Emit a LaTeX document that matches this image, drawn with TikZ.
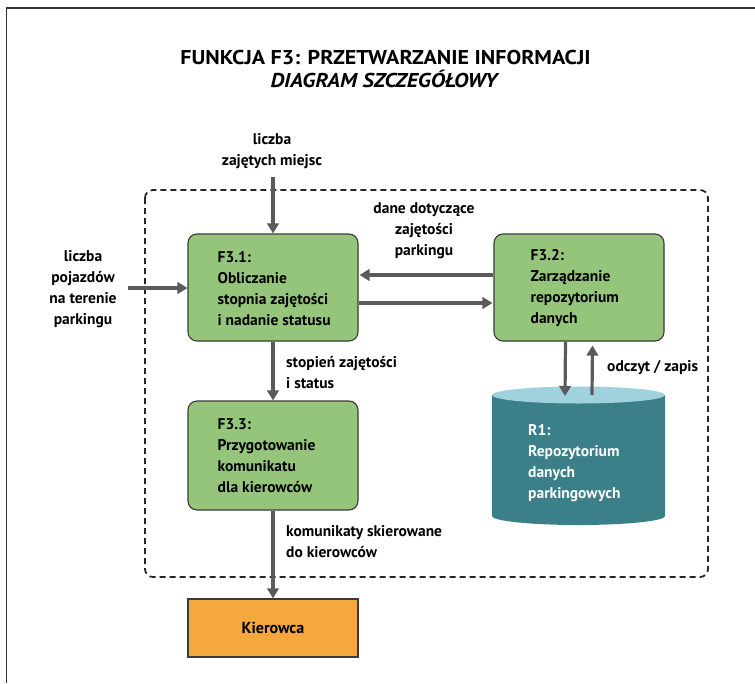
\documentclass[tikz,border=0pt]{standalone}
\usepackage{fontspec}
\setmainfont{PT Sans}
\newfontfamily\headfont{PT Sans}[FakeStretch=1.1]
\usetikzlibrary{arrows.meta}

\definecolor{procgreen}{HTML}{94C57B}
\definecolor{edgegray}{HTML}{3A3A3A}
\definecolor{flowgray}{HTML}{5A5A5A}
\definecolor{cylbody}{HTML}{3B8089}
\definecolor{cyltop}{HTML}{A0D2DE}
\definecolor{driverorange}{HTML}{F5A83D}

\tikzset{
  bodytext/.style={font=\fontsize{15.5}{21}\selectfont\bfseries, text=black, inner sep=0pt},
  proc/.style={draw=edgegray, line width=1.1pt, fill=procgreen, rounded corners=9pt,
               minimum width=170pt, minimum height=107pt, inner sep=0pt},
  flow/.style={draw=flowgray, line width=3.2pt,
               -{Triangle[length=10pt,width=11.5pt]}},
  scopebox/.style={draw=black!85, line width=1.8pt, dash pattern=on 6pt off 4pt,
                   rounded corners=8pt},
  framerule/.style={draw=black!80, line width=1.2pt},
}

\begin{document}
\begin{tikzpicture}[x=1pt,y=-1pt]
\useasboundingbox (0,0) rectangle (755,683);

% page frame
\draw[framerule] (6.5,683) -- (6.5,8) -- (755,8);

% title
\node[font=\headfont\fontsize{20}{23}\selectfont\bfseries, anchor=base, inner sep=0pt]
  (title1) at (385.5,64) {FUNKCJA F3: PRZETWARZANIE INFORMACJI};
\node[font=\headfont\fontsize{20}{23}\selectfont\bfseries\itshape, anchor=base, inner sep=0pt]
  (title2) at (384,87) {DIAGRAM SZCZEGÓŁOWY};

% scope of function F3
\draw[scopebox] (145,190) rectangle (708,577);

% processes
\node[proc] (f31) at (273,287.5) {};
\node[proc] (f32) at (579,287.5) {};
\node[proc, minimum height=109pt] (f33) at (273,455.5) {};

\node[bodytext, align=left, anchor=west] (f31t) at ([xshift=30pt,yshift=-1.5pt]f31.west)
  {F3.1:\\Obliczanie\\stopnia zajętości\\i nadanie statusu};
\node[bodytext, align=left, anchor=west] (f32t) at ([xshift=37pt,yshift=-1pt]f32.west)
  {F3.2:\\Zarządzanie\\repozytorium\\danych};
\node[bodytext, align=left, anchor=west] (f33t) at ([xshift=30pt,yshift=-0.5pt]f33.west)
  {F3.3:\\Przygotowanie\\komunikatu\\dla kierowców};

% data repository
\coordinate (r1top) at (578.5,395);
\fill[cylbody] (492,395) -- (492,516)
  arc[start angle=180, end angle=360, x radius=86.5pt, y radius=9pt]
  -- (665,395) -- cycle;
\fill[cyltop] (r1top) ellipse[x radius=86.5pt, y radius=8.5pt];
\node[bodytext, text=white, align=left, anchor=west] (r1) at (528,463.5)
  {R1:\\Repozytorium\\danych\\parkingowych};

% external entity
\node[draw=edgegray, line width=1.3pt, fill=driverorange, minimum width=170pt,
      minimum height=58pt, inner sep=0pt,
      font=\fontsize{16}{19}\selectfont\bfseries] (kier) at (273,628) {Kierowca};

% flow labels
\node[bodytext, align=center] (lTop) at (272,151.5) {liczba\\zajętych miejsc};
\node[bodytext, align=center] (lLeft) at (83,289) {liczba\\pojazdów\\na terenie\\parkingu};
\node[bodytext, align=center] (lDane) at (424,230.5) {dane dotyczące\\zajętości\\parkingu};
\node[bodytext, align=left, anchor=west] (lStop) at (286,373) {stopień zajętości\\i status};
\node[bodytext, anchor=west] (lRW) at (607,368) {odczyt / zapis};
\node[bodytext, align=left, anchor=west] (lKom) at (286,542) {komunikaty skierowane\\do kierowców};

% flows
\coordinate (inTop) at (273,177);
\coordinate (inLeft) at (128,288);
\draw[flow] (inTop) -- (f31.north);
\draw[flow] (inLeft) -- (inLeft -| f31.west);
\draw[flow] ([yshift=12.5pt]f32.west) -- ([yshift=12.5pt,xshift=1pt]f31.east);
\draw[flow] ([yshift=-15.5pt]f31.east) -- ([yshift=-15.5pt,xshift=-1pt]f32.west);
\draw[flow] (f31.south) -- (f33.north);
\draw[flow] (f33.south) -- (kier.north);
\draw[flow] ([xshift=-13.5pt]f32.south) -- ([xshift=-13.5pt,yshift=-1pt]r1top);
\draw[flow] ([xshift=13.5pt]r1top) -- ([xshift=13.5pt,yshift=-4pt]f32.south);
\end{tikzpicture}
\end{document}
